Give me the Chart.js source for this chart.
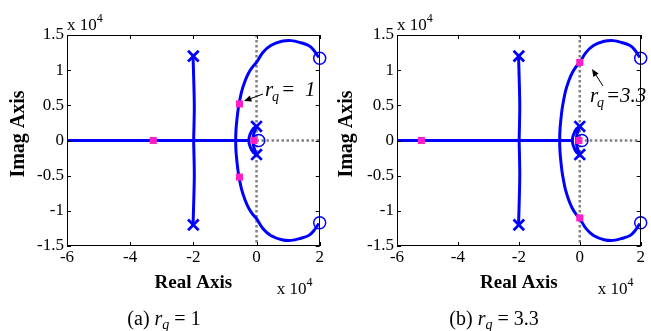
<!DOCTYPE html>
<html>
<head>
<meta charset="UTF-8">
<title>Root locus</title>
<script src="https://cdn.jsdelivr.net/npm/chart.js"></script>
<style>
  html, body { margin: 0; background: #fff; overflow: hidden; }
  .plot { position: absolute; top: 0; height: 331px; }
  #boxA { left: 0; width: 330px; }
  #boxB { left: 330px; width: 321px; }
</style>
</head>
<body>
<div class="plot" id="boxA"><canvas id="chartA"></canvas></div>
<div class="plot" id="boxB"><canvas id="chartB"></canvas></div>
<script>
// axes (values in units of 1e4)
const xTicks = [-6, -4, -2, 0, 2];
const xTickLabels = ['-6', '-4', '-2', '0', '2'];
const yTicks = [-1.5, -1, -0.5, 0, 0.5, 1, 1.5];
const yTickLabels = ['-1.5', '-1', '-0.5', '0', '0.5', '1', '1.5'];

// root locus branches
const realRe = [-6, -0.24];
const realIm = [0, 0];
const vertRe = [-2.01, -1.99, -1.97, -1.98, -1.99, -1.98, -1.97, -1.99, -2.01];
const vertIm = [1.2, 0.9, 0.5, 0.2, 0, -0.2, -0.5, -0.9, -1.2];
const bigRe = [1.97, 1.8, 1.65, 1.4, 1.1, 0.8, 0.45, 0.2, 0, -0.12, -0.25, -0.36, -0.47, -0.54, -0.58, -0.62, -0.65, -0.66,
               -0.65, -0.62, -0.58, -0.54, -0.47, -0.36, -0.25, -0.12, 0, 0.2, 0.45, 0.8, 1.1, 1.4, 1.65, 1.8, 1.97];
const bigIm = [1.18, 1.29, 1.35, 1.39, 1.42, 1.41, 1.35, 1.25, 1.11, 1.05, 0.96, 0.85, 0.7, 0.55, 0.45, 0.3, 0.15, 0,
               -0.15, -0.3, -0.45, -0.55, -0.7, -0.85, -0.96, -1.05, -1.11, -1.25, -1.35, -1.41, -1.42, -1.39, -1.35, -1.29, -1.18];
const outerRe = [0, -0.1, -0.18, -0.23, -0.24, -0.23, -0.18, -0.1, 0];
const outerIm = [0.2, 0.17, 0.11, 0.05, 0, -0.05, -0.11, -0.17, -0.2];
const innerRe = [0, -0.06, -0.1, -0.11, -0.1, -0.06, 0];
const innerIm = [0.2, 0.13, 0.07, 0, -0.07, -0.13, -0.2];

// poles (x) and zeros (o)
const polesRe = [-2, -2, 0, 0];
const polesIm = [1.2, -1.2, 0.2, -0.2];
const zerosRe = [2, 2, 0.07];
const zerosIm = [1.17, -1.17, 0];

// closed-loop poles at the chosen gain
const sqARe = [-3.27, -0.54, -0.54, -0.08];
const sqAIm = [0, 0.52, -0.52, 0];
const sqBRe = [-5.2, 0, 0, -0.03];
const sqBIm = [0, 1.11, -1.1, 0];

const BLUE = '#0000ff';
const PINK = '#ff1fc4';
const SERIF = "'Liberation Serif', 'Times New Roman', serif";
Chart.defaults.font.family = SERIF;

const pts = (re, im) => re.map((v, i) => ({ x: v, y: im[i] }));

function drawParts(ctx, parts, x, y, align) {
  let w = 0;
  parts.forEach(p => { ctx.font = p.f; w += p.dx !== undefined ? 0 : ctx.measureText(p.t).width; });
  let cx = align === 'center' ? x - w / 2 : x;
  parts.forEach(p => {
    ctx.font = p.f;
    const px = p.dx !== undefined ? x + p.dx : cx;
    ctx.fillText(p.t, px, y + (p.dy || 0));
    cx = px + ctx.measureText(p.t).width;
  });
}

function arrow(ctx, x1, y1, x2, y2) {
  const a = Math.atan2(y2 - y1, x2 - x1);
  ctx.beginPath();
  ctx.moveTo(x1, y1);
  ctx.lineTo(x2 - 4 * Math.cos(a), y2 - 4 * Math.sin(a));
  ctx.stroke();
  ctx.beginPath();
  ctx.moveTo(x2, y2);
  ctx.lineTo(x2 - 8 * Math.cos(a - 0.4), y2 - 8 * Math.sin(a - 0.4));
  ctx.lineTo(x2 - 8 * Math.cos(a + 0.4), y2 - 8 * Math.sin(a + 0.4));
  ctx.closePath();
  ctx.fill();
}

const frame = {
  id: 'frame',
  beforeDatasetsDraw(chart) {
    const { ctx, chartArea: a, scales: { x, y } } = chart;
    const x0 = x.getPixelForValue(0), y0 = y.getPixelForValue(0);
    ctx.save();
    ctx.strokeStyle = '#808080';
    ctx.lineWidth = 2.5;
    ctx.setLineDash([2.5, 2.5]);
    ctx.beginPath();
    ctx.moveTo(x0, a.top); ctx.lineTo(x0, a.bottom);
    ctx.moveTo(x0, y0); ctx.lineTo(a.right, y0);
    ctx.stroke();
    ctx.restore();
  },
  afterDraw(chart, args, opts) {
    const { ctx, chartArea: a, scales: { x, y } } = chart;
    ctx.save();
    ctx.strokeStyle = '#000';
    ctx.lineWidth = 1;
    ctx.strokeRect(Math.round(a.left) + 0.5, Math.round(a.top) + 0.5, Math.round(a.right - a.left) - 1, Math.round(a.bottom - a.top) - 1);
    ctx.beginPath();
    xTicks.forEach(v => {
      const px = Math.round(x.getPixelForValue(v)) + 0.5;
      ctx.moveTo(px, a.bottom); ctx.lineTo(px, a.bottom - 4);
      ctx.moveTo(px, a.top); ctx.lineTo(px, a.top + 4);
    });
    yTicks.forEach(v => {
      const py = Math.round(y.getPixelForValue(v)) + 0.5;
      ctx.moveTo(a.left, py); ctx.lineTo(a.left + 4, py);
      ctx.moveTo(a.right, py); ctx.lineTo(a.right - 4, py);
    });
    ctx.stroke();

    ctx.fillStyle = '#000';
    ctx.textBaseline = 'alphabetic';
    ctx.textAlign = 'left';
    const reg = '17px ' + SERIF, sup = '12px ' + SERIF;
    // exponent labels
    drawParts(ctx, [{ t: 'x 10', f: reg }, { t: '4', f: sup, dy: -8 }], a.left, 30, 'left');
    drawParts(ctx, [{ t: 'x 10', f: reg }, { t: '4', f: sup, dy: -8 }], a.right - 43, 294, 'left');

    // axis titles
    ctx.font = 'bold 19px ' + SERIF;
    ctx.textAlign = 'center';
    ctx.fillText('Real Axis', (a.left + a.right) / 2, 288);
    ctx.save();
    ctx.translate(opts.imagX, 134);
    ctx.rotate(-Math.PI / 2);
    ctx.textBaseline = 'middle';
    ctx.font = 'bold 20px ' + SERIF;
    ctx.fillText('Imag Axis', 0, 0);
    ctx.restore();
    ctx.textAlign = 'left';

    // caption
    const cap = '20px ' + SERIF, capI = 'italic 20px ' + SERIF, capS = 'italic 14px ' + SERIF;
    drawParts(ctx, [{ t: opts.tag + ' ', f: cap }, { t: 'r', f: capI }, { t: 'q', f: capS, dy: 4 }, { t: ' = ' + opts.value, f: cap }], 164, 325, 'center');

    // annotation
    const n = opts.note;
    const ni = 'italic 21px ' + SERIF, ns = 'italic 14px ' + SERIF;
    drawParts(ctx, [
      { t: 'r', f: ni, dx: 0 },
      { t: 'q', f: ns, dx: 7, dy: 5 },
      { t: '=', f: ni, dx: n.eq },
      { t: opts.value, f: ni, dx: n.val }
    ], n.x, n.y, 'left');
    ctx.lineWidth = 1;
    arrow(ctx, n.ax1, n.ay1, n.ax2, n.ay2);
    ctx.restore();
  }
};

function makeChart(id, sqRe, sqIm, padRight, extra) {
  const tickFont = { family: SERIF, size: 17 };
  const line = (re, im) => ({
    data: pts(re, im), showLine: true, borderColor: BLUE, borderWidth: 3,
    pointRadius: 0, tension: 0.35, fill: false
  });
  return new Chart(document.getElementById(id), {
    type: 'scatter',
    data: {
      datasets: [
        { data: pts(sqRe, sqIm), pointStyle: 'rect', pointRadius: 5, pointBackgroundColor: PINK,
          pointBorderWidth: 0, pointBorderColor: PINK, clip: false },
        { data: pts(polesRe, polesIm), pointStyle: 'crossRot', pointRadius: 7.5, pointBorderColor: BLUE,
          pointBorderWidth: 2.8, clip: false },
        { data: pts(zerosRe, zerosIm), pointStyle: 'circle', pointRadius: 6, pointBorderColor: BLUE,
          pointBackgroundColor: 'rgba(0,0,0,0)', pointBorderWidth: 1.5, clip: false },
        line(realRe, realIm),
        line(vertRe, vertIm),
        line(bigRe, bigIm),
        line(outerRe, outerIm),
        line(innerRe, innerIm)
      ]
    },
    options: {
      responsive: true,
      maintainAspectRatio: false,
      animation: false,
      events: [],
      layout: { padding: { top: 35, right: padRight, left: 0, bottom: 0 } },
      plugins: { legend: { display: false }, tooltip: { enabled: false }, frame: extra },
      scales: {
        x: {
          type: 'linear', min: -6, max: 2,
          afterBuildTicks: s => { s.ticks = xTicks.map(v => ({ value: v })); },
          afterFit: s => { s.height = 85; },
          ticks: { font: tickFont, color: '#000', padding: 1, maxRotation: 0, autoSkip: false,
                   callback: v => xTickLabels[xTicks.indexOf(v)] },
          grid: { display: false, drawTicks: false },
          border: { display: false }
        },
        y: {
          type: 'linear', min: -1.5, max: 1.5,
          afterBuildTicks: s => { s.ticks = yTicks.map(v => ({ value: v })); },
          afterFit: s => { s.width = 67; },
          ticks: { font: tickFont, color: '#000', padding: 3, autoSkip: false,
                   callback: v => yTickLabels[yTicks.indexOf(v)] },
          grid: { display: false, drawTicks: false },
          border: { display: false }
        }
      }
    },
    plugins: [frame]
  });
}

makeChart('chartA', sqARe, sqAIm, 9, {
  tag: '(a)', value: '1', imagX: 19,
  note: { x: 265, y: 96, eq: 16, val: 40, ax1: 263, ay1: 94, ax2: 244, ay2: 101 }
});
makeChart('chartB', sqBRe, sqBIm, 3, {
  tag: '(b)', value: '3.3', imagX: 17,
  note: { x: 260, y: 102, eq: 16, val: 30, ax1: 273, ay1: 86, ax2: 262, ay2: 69 }
});
</script>
</body>
</html>
